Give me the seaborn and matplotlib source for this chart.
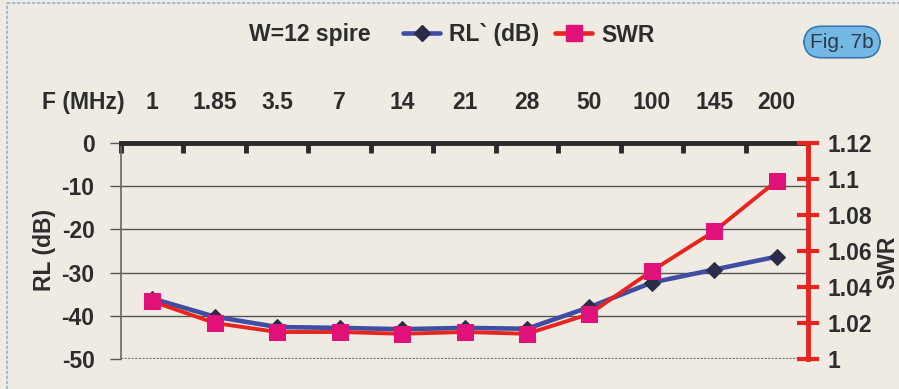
import matplotlib
matplotlib.use("Agg")
import matplotlib.pyplot as plt
from matplotlib.lines import Line2D
import numpy as np
import pandas as pd
import seaborn as sns

# Frequencies (MHz) and the measured values for the W=12 turn winding
freq_labels = ['1', '1.85', '3.5', '7', '14', '21', '28', '50', '100', '145', '200']
rl_db = [-36.0, -40.2, -42.6, -42.8, -43.1, -42.8, -43.0, -38.0, -32.3, -29.3, -26.3]
swr = [1.032, 1.020, 1.015, 1.015, 1.014, 1.015, 1.014, 1.025, 1.049, 1.071, 1.099]

rl_ticks = [0, -10, -20, -30, -40, -50]
swr_ticks = [1, 1.02, 1.04, 1.06, 1.08, 1.1, 1.12]
swr_tick_labels = ['1', '1.02', '1.04', '1.06', '1.08', '1.1', '1.12']

df = pd.DataFrame({"pos": np.arange(len(freq_labels)), "freq": freq_labels,
                   "rl": rl_db, "swr": swr})

sns.set_theme(style="white")
plt.rcParams['font.family'] = ['Liberation Sans', 'DejaVu Sans']

BG = '#efebe3'
TXT = '#2d2d2d'
BLUE = '#3f4ea3'
NAVY = '#2b2d48'
RED = '#e8241e'
MAGENTA = '#e0127a'
FS = 16.5

W, H = 899, 389
fig = plt.figure(figsize=(W / 100, H / 100), dpi=100, facecolor=BG)
left, right, top, bottom = 121, 808, 143, 359
ax = fig.add_axes([left / W, 1 - bottom / H, (right - left) / W, (bottom - top) / H])
ax.set_facecolor('none')
ax2 = ax.twinx()

# Return loss (left axis)
sns.lineplot(data=df, x="pos", y="rl", ax=ax, color=BLUE, lw=3.3,
             marker='D', markersize=8.5, markerfacecolor=NAVY, markeredgecolor=NAVY,
             sort=False, zorder=3)
# SWR (right axis)
sns.lineplot(data=df, x="pos", y="swr", ax=ax2, color=RED, lw=2.8,
             marker='s', markersize=11.5, markerfacecolor=MAGENTA, markeredgecolor=MAGENTA,
             sort=False, zorder=3)

n = len(freq_labels)
ax.set_xlim(-0.5, n - 0.5)
ax.set_ylim(-50, 0)
ax2.set_ylim(1, 1.12)

# Category axis along the top
ax.xaxis.tick_top()
ax.set_xticks(df["pos"])
ax.set_xticklabels(freq_labels)
ax.set_xticks(np.arange(-0.5, n, 1.0), minor=True)
ax.tick_params(axis='x', which='major', length=0, pad=21, labelsize=FS,
               labelcolor=TXT, top=True, bottom=False)
ax.tick_params(axis='x', which='minor', length=7, width=3.5, direction='in',
               color='#2a2a2a', top=True, bottom=False)
for lab in ax.get_xticklabels():
    lab.set_fontweight('bold')
ax.set_xlabel('')

# Left axis
ax.set_yticks(rl_ticks)
ax.set_yticklabels([str(v) for v in rl_ticks])
ax.tick_params(axis='y', which='major', length=8, width=1, direction='out',
               color='#555555', pad=11, labelsize=FS, labelcolor=TXT, left=True)
for lab in ax.get_yticklabels():
    lab.set_fontweight('bold')
ax.set_ylabel('')
for v in [-10, -20, -30, -40]:
    ax.axhline(v, color='#555555', lw=1.0, zorder=1)
ax.axhline(-50, color='#777777', lw=1.6, ls=(0, (1, 0.6)), zorder=1)

# Right axis
ax2.set_yticks(swr_ticks)
ax2.set_yticklabels(swr_tick_labels)
ax2.tick_params(axis='y', which='major', length=16, width=3, direction='inout',
                color=RED, pad=6, labelsize=FS, labelcolor=TXT, right=True)
for lab in ax2.get_yticklabels():
    lab.set_fontweight('bold')
ax2.set_ylabel('')

for a in (ax, ax2):
    for s in a.spines.values():
        s.set_visible(False)
ax.spines['top'].set_visible(True)
ax.spines['top'].set_linewidth(3.5)
ax.spines['top'].set_color('#2a2a2a')
ax.spines['left'].set_visible(True)
ax.spines['left'].set_linewidth(1.2)
ax.spines['left'].set_color('#666666')
ax2.spines['right'].set_visible(True)
ax2.spines['right'].set_linewidth(3.5)
ax2.spines['right'].set_color(RED)
ax2.spines['right'].set_zorder(5)

# Axis titles
fig.text(83 / W, 1 - 103 / H, 'F (MHz)', ha='center', va='center',
         fontsize=FS, fontweight='bold', color=TXT)
fig.text(45 / W, 1 - 250 / H, 'RL (dB)', ha='center', va='center', rotation=90,
         fontsize=FS, fontweight='bold', color=TXT)
fig.text(888 / W, 1 - 262 / H, 'SWR', ha='center', va='center', rotation=90,
         fontsize=FS, fontweight='bold', color=TXT)

# Title and legend row
fig.text(310 / W, 1 - 35 / H, 'W=12 spire', ha='center', va='center',
         fontsize=FS, fontweight='bold', color=TXT)
handles = [
    Line2D([], [], color=BLUE, lw=3.3, marker='D', markersize=8.5,
           markerfacecolor=NAVY, markeredgecolor=NAVY),
    Line2D([], [], color=RED, lw=3.3, marker='s', markersize=11,
           markerfacecolor=MAGENTA, markeredgecolor=MAGENTA),
]
leg = fig.legend(handles, ['RL` (dB)', 'SWR'], loc='center', ncol=2,
                 bbox_to_anchor=(529 / W, 1 - 35 / H), frameon=False,
                 handlelength=1.6, handletextpad=0.4, columnspacing=0.7,
                 prop={'size': FS, 'weight': 'bold'})
for t in leg.get_texts():
    t.set_color(TXT)

# Figure badge
fig.text(842 / W, 1 - 42 / H, 'Fig. 7b', ha='center', va='center',
         fontsize=15, color='#2e3a4a',
         bbox=dict(boxstyle='round,pad=0.3,rounding_size=0.85',
                   facecolor='#74b9e6', edgecolor='#3a78b0', lw=1.2))

# Page frame
fig.add_artist(Line2D([7 / W, 7 / W], [0, 1 - 3 / H], color='#8fb3da', lw=1.2,
                      ls=(0, (2, 1)), transform=fig.transFigure))
fig.add_artist(Line2D([7 / W, 1], [1 - 3 / H, 1 - 3 / H], color='#8fb3da', lw=1.2,
                      ls=(0, (2, 1)), transform=fig.transFigure))

fig.savefig('out.png', dpi=100, facecolor=BG)
